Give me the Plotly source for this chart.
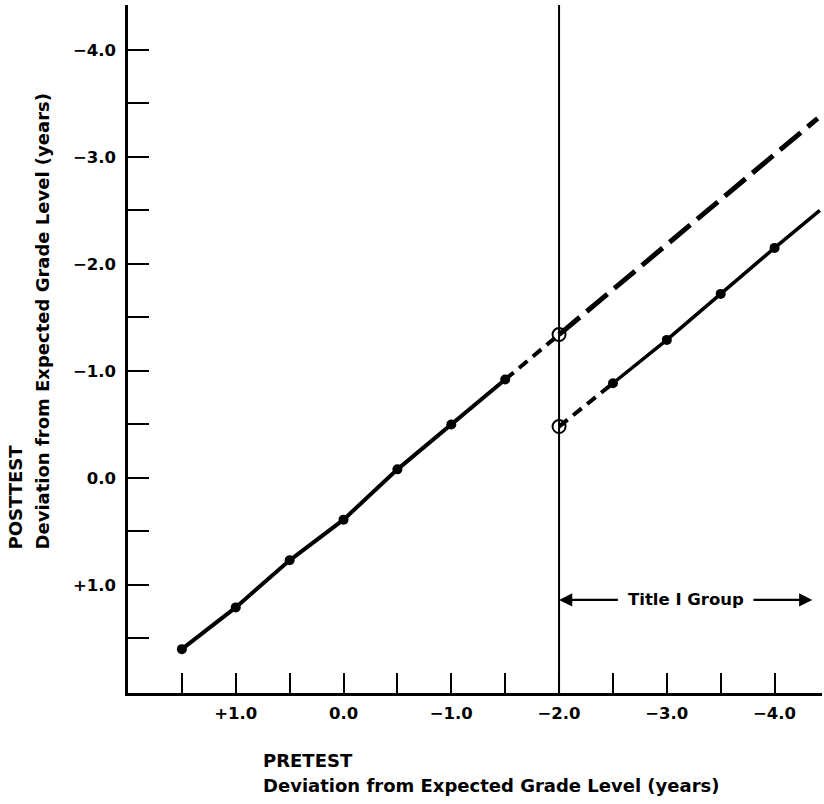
import plotly.graph_objects as go

# ---------------- data ----------------
# non-Title I group: pretest vs posttest (solid line with filled dots)
pre_main = [1.5, 1.0, 0.5, 0.0, -0.5, -1.0, -1.5]
post_main = [1.60, 1.21, 0.77, 0.39, -0.08, -0.50, -0.92]

# short dashed link to the cutoff
pre_link = [-1.5, -2.0]
post_link = [-0.92, -1.34]

# expected (projected) line beyond the cutoff, long dashes
pre_proj = [-2.0, -4.40]
post_proj = [-1.34, -3.36]

# Title I group at cutoff (open circles)
pre_open = [-2.0, -2.0]
post_open = [-1.34, -0.48]

# Title I group: dashed link, then solid line with filled dots
pre_t1_link = [-2.0, -2.5]
post_t1_link = [-0.48, -0.885]
pre_t1 = [-2.5, -3.0, -3.5, -4.0]
post_t1 = [-0.885, -1.29, -1.72, -2.15]
pre_t1_line = [-2.5, -3.0, -3.5, -4.0, -4.42]
post_t1_line = [-0.885, -1.29, -1.72, -2.15, -2.50]

cutoff = -2.0

x_tickvals = [1.5, 1.0, 0.5, 0.0, -0.5, -1.0, -1.5, -2.0, -2.5, -3.0, -3.5, -4.0]
x_ticktext = ["", "+1.0", "", "0.0", "", "\u22121.0", "", "\u22122.0", "", "\u22123.0", "", "\u22124.0"]
y_tickvals = [-4.0, -3.5, -3.0, -2.5, -2.0, -1.5, -1.0, -0.5, 0.0, 0.5, 1.0, 1.5]
y_ticktext = ["\u22124.0", "", "\u22123.0", "", "\u22122.0", "", "\u22121.0", "", "0.0", "", "+1.0", ""]

x_title = ["PRETEST", "Deviation from Expected Grade Level (years)"]
y_title = ["POSTTEST", "Deviation from Expected Grade Level (years)"]
group_label = "Title I Group"

# ---------------- figure ----------------
FONT = "DejaVu Sans"
INK = "#000000"

W, H = 824, 804
ML, MR, MT, MB = 128, 2, 5, 111
PW = W - ML - MR
PH = H - MT - MB


def px_x(p):
    return (p - ML) / PW


def px_y(p):
    return (H - MB - p) / PH


fig = go.Figure()

fig.add_trace(go.Scatter(x=pre_main, y=post_main, mode="lines+markers",
                         line=dict(color=INK, width=4),
                         marker=dict(color=INK, size=10), hoverinfo="skip"))
fig.add_trace(go.Scatter(x=pre_link, y=post_link, mode="lines",
                         line=dict(color=INK, width=4, dash="11px,7px"), hoverinfo="skip"))
fig.add_trace(go.Scatter(x=pre_proj, y=post_proj, mode="lines",
                         line=dict(color=INK, width=5, dash="27px,9px"), hoverinfo="skip"))
fig.add_trace(go.Scatter(x=pre_t1_link, y=post_t1_link, mode="lines",
                         line=dict(color=INK, width=4, dash="11px,7px"), hoverinfo="skip"))
fig.add_trace(go.Scatter(x=pre_t1_line, y=post_t1_line, mode="lines",
                         line=dict(color=INK, width=3.5), hoverinfo="skip"))
fig.add_trace(go.Scatter(x=pre_t1, y=post_t1, mode="markers",
                         marker=dict(color=INK, size=10), hoverinfo="skip"))
fig.add_trace(go.Scatter(x=pre_open, y=post_open, mode="markers",
                         marker=dict(symbol="circle-open", color=INK, size=13,
                                     line=dict(width=2, color=INK)),
                         hoverinfo="skip"))

# vertical cutoff line
fig.add_shape(type="line", xref="x", yref="paper", x0=cutoff, x1=cutoff, y0=0, y1=1,
              line=dict(color=INK, width=2))

ann_font = dict(family=FONT, size=18, color=INK, weight="bold")

# bottom axis title (two left-aligned lines)
fig.add_annotation(text=x_title[0], xref="paper", yref="paper", x=px_x(261), y=px_y(760),
                   xanchor="left", yanchor="middle", showarrow=False, font=ann_font)
fig.add_annotation(text=x_title[1], xref="paper", yref="paper", x=px_x(261), y=px_y(786),
                   xanchor="left", yanchor="middle", showarrow=False, font=ann_font)
# left axis title (rotated, bottom aligned)
fig.add_annotation(text=y_title[0], xref="paper", yref="paper", x=px_x(15), y=px_y(552),
                   xanchor="center", yanchor="bottom", textangle=-90, showarrow=False,
                   font=ann_font)
fig.add_annotation(text=y_title[1], xref="paper", yref="paper", x=px_x(42), y=px_y(552),
                   xanchor="center", yanchor="bottom", textangle=-90, showarrow=False,
                   font=ann_font)

# Title I Group label with arrows
lab_y = 1.14
fig.add_annotation(text=group_label, x=-3.18, y=lab_y, xref="x", yref="y", showarrow=False,
                   font=dict(family=FONT, size=16.5, color=INK, weight="bold"))
fig.add_annotation(text="", x=-2.0, y=lab_y, ax=-2.56, ay=lab_y, xref="x", yref="y",
                   axref="x", ayref="y", showarrow=True, arrowhead=2, arrowsize=1.2,
                   arrowwidth=2.2, arrowcolor=INK, standoff=0, startstandoff=0)
fig.add_annotation(text="", x=-4.35, y=lab_y, ax=-3.79, ay=lab_y, xref="x", yref="y",
                   axref="x", ayref="y", showarrow=True, arrowhead=2, arrowsize=1.2,
                   arrowwidth=2.2, arrowcolor=INK, standoff=0, startstandoff=0)

tick_font = dict(family=FONT, size=16.5, color=INK, weight="bold")

fig.update_layout(
    width=W, height=H,
    margin=dict(l=ML, r=MR, t=MT, b=MB),
    paper_bgcolor="white", plot_bgcolor="white",
    showlegend=False,
    xaxis=dict(range=[2.0, -4.44], showgrid=False, zeroline=False,
               showline=True, linecolor=INK, linewidth=2.5,
               ticks="inside", ticklen=20, tickwidth=2, tickcolor=INK,
               tickmode="array", tickvals=x_tickvals, ticktext=x_ticktext,
               tickfont=tick_font, ticklabelstandoff=3),
    yaxis=dict(range=[2.01, -4.42], showgrid=False, zeroline=False,
               showline=True, linecolor=INK, linewidth=2.5,
               ticks="inside", ticklen=21, tickwidth=2, tickcolor=INK,
               tickmode="array", tickvals=y_tickvals, ticktext=y_ticktext,
               tickfont=tick_font, ticklabelstandoff=6),
)

fig.write_html("out.html", config={"displayModeBar": False},
               post_script="document.body.style.margin='0';")
